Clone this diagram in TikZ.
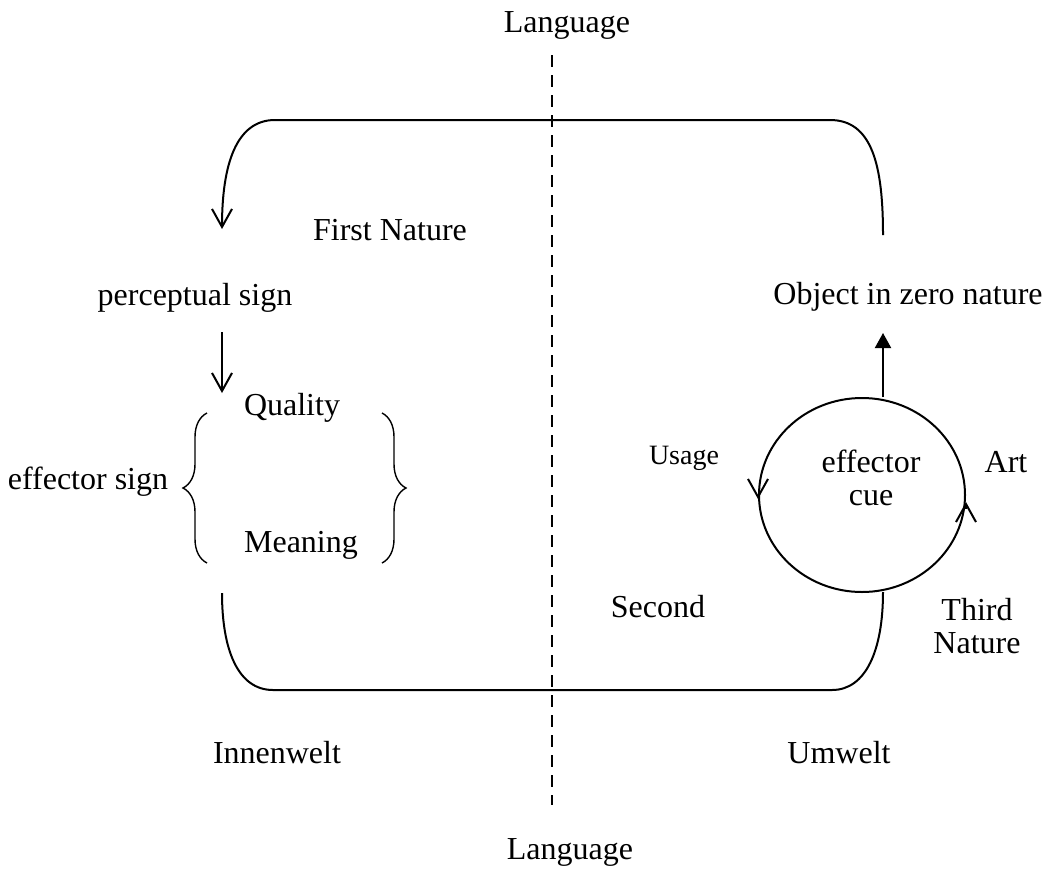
\documentclass[tikz,border=0pt]{standalone}
\usepackage{fontspec}
\setmainfont{Liberation Serif}
\usetikzlibrary{arrows.meta}
\usetikzlibrary{positioning}
\usetikzlibrary{shapes.geometric}
\usetikzlibrary{decorations.pathreplacing}
\tikzstyle{mot}=[font=\fontsize{16}{16.5}\selectfont,align=center,inner sep=0pt]
\tikzstyle{petit}=[font=\fontsize{14}{16}\selectfont,inner sep=0pt]
\tikzstyle{trait}=[line width=1pt]
\tikzstyle{fleche}=[trait,-{Straight Barb[length=9pt,width=10pt]}]
\tikzstyle{pleine}=[trait,-{Triangle[length=7.5pt,width=8pt]}]
\tikzstyle{accolade}=[line width=0.7pt,decorate,decoration={brace,amplitude=12pt}]
\tikzstyle{langue}=[line width=1pt,dash pattern=on 6pt off 4pt]
\tikzstyle{boucle}=[ellipse,draw,line width=1pt,minimum width=103pt,minimum height=97pt,inner sep=0pt]

\begin{document}
\begin{tikzpicture}[x=0.5pt,y=-0.5pt]
\useasboundingbox (0,0) rectangle (1049,868);
\node[mot] (langhaut) at (567,25) {Language};
\node[mot] (langbas) at (570,852) {Language};
\node[mot] (first) at (390,230) {First Nature};
\node[mot] (percept) at (195,298) {perceptual sign};
\node[mot] (quality) at (292,408) {Quality};
\node[mot] (meaning) at (301,545) {Meaning};
\node[mot] (effsign) at (88,482) {effector sign};
\node[mot] (objet) at (908,297) {Object in zero nature};
\node[boucle] (cue) at (862,495) {};
\node[mot] (cuetxt) at (871,478) {effector\\cue};
\node[petit] (usage) at (684,458) {Usage};
\node[mot] (art) at (1006,462) {Art};
\node[mot] (second) at (658,607) {Second};
\node[mot] (third) at (977,626) {Third\\Nature};
\node[mot] (innen) at (277,753) {Innenwelt};
\node[mot] (umwelt) at (839,753) {Umwelt};
%les points libres
\coordinate (lh) at (552,55);
\coordinate (lb) at (552,805);
\coordinate (hautd) at (883,235);
\coordinate (hautg) at (222,229);
\coordinate (basg) at (222,593);
\coordinate (basd) at (883,592);
\coordinate (fl1) at (222,332);
\coordinate (fl2) at (222,393);
\coordinate (obj1) at (883,397);
\coordinate (obj2) at (883,333);
%les traits
\draw[langue] (lh) -- (lb);
\draw[fleche] (hautd) .. controls (883,165) and (872,120) .. (830,120) -- (275,120)
  .. controls (236,120) and (222,165) .. (hautg);
\draw[trait] (basg) .. controls (222,650) and (238,690) .. (273,690) -- (832,690)
  .. controls (866,690) and (883,650) .. (basd);
\draw[fleche] (fl1) -- (fl2);
\draw[pleine] (obj1) -- (obj2);
\draw[fleche] (cue.west) -- ++(0,4);
\draw[fleche] ([yshift=-7pt]cue.east) -- ++(0,-7);
\draw[accolade] (207,563) -- (207,413);
\draw[accolade] (382,413) -- (382,563);
\end{tikzpicture}
\end{document}
